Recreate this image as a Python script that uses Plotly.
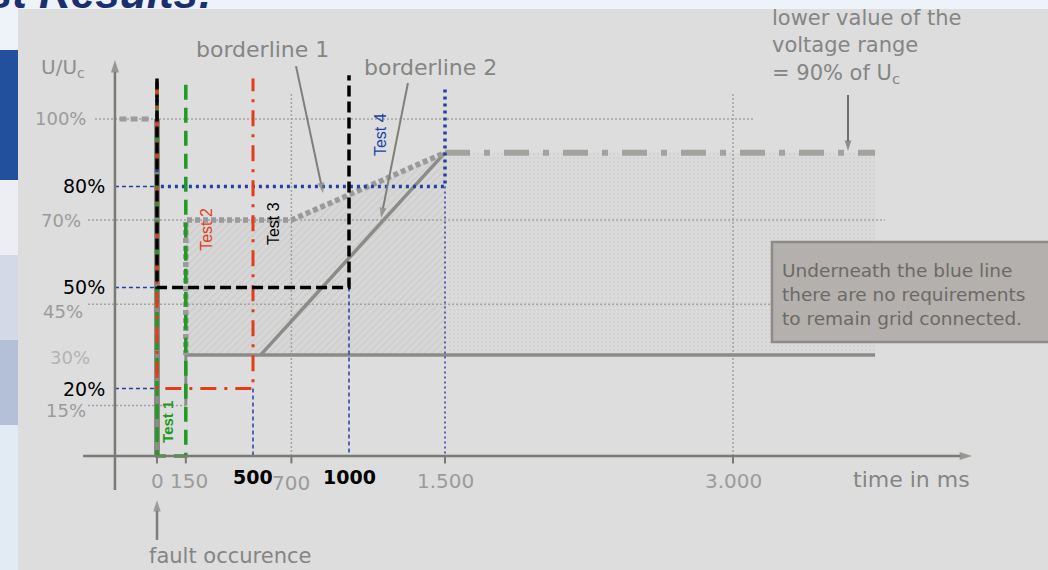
import plotly.graph_objects as go

# ---------------- data ----------------
# time axis (ms) and voltage axis (% of Uc)
x_tick_vals = [0, 150, 500, 700, 1000, 1500, 3000]
x_tick_text = ["0", "150", "<b>500</b>", "700", "<b>1000</b>", "1.500", "3.000"]
x_tick_dark = [False, False, True, False, True, False, False]
tick_mark_vals = [0, 150, 700, 1500, 3000]

y_tick_vals = [100, 80, 70, 50, 45, 30, 20, 15]
y_tick_text = ["100%", "80%", "70%", "50%", "45%", "30%", "20%", "15%"]
y_tick_dark = [False, True, False, True, False, False, True, False]

# grey requirement curves
pre_t, pre_u = [-195, -35], [100, 100]            # before fault, 100 %
fault_t, fault_u = [0, 0], [100, 0]               # fault occurrence
bl1_t, bl1_u = [150, 150, 700, 1500], [30, 70, 70, 90]   # borderline 1
bl2_t, bl2_u = [540, 1500], [30, 90]                     # borderline 2 ramp
floor_t, floor_u = [150, 3740], [30, 30]                 # 30 % floor
step_t, step_u = [150, 150], [15, 30]
lv_t, lv_u = [1500, 3740], [90, 90]                      # lower value 90 %
hatch_t, hatch_u = [150, 150, 700, 1500, 1500], [30, 70, 70, 90, 30]
stip_t, stip_u = [1500, 1500, 3740, 3740], [30, 90, 90, 30]

# test voltage profiles
test1_t, test1_u = [0, 0, 150, 150], [111, 0, 0, 111]
test2_t, test2_u = [0, 0, 500, 500], [111, 20, 20, 112]
test3_t, test3_u = [0, 0, 1000, 1000], [112, 50, 50, 113]
test4_t, test4_u = [0, 0, 1500, 1500], [110, 80, 80, 109]

# ---------------- figure ----------------
FONT = "DejaVu Sans"
ARIAL = "Liberation Sans, Arial"
GRID = "#a3a3a3"
BORDER = "#8b8b87"
AXIS = "#7a7a74"
BLUE = "#2142a3"
GREEN = "#1f9a22"
RED = "#e23d1a"
TXT = "#858585"

X0, X1 = -817.7, 4640.6
Y0, Y1 = -33.83, 135.31

fig = go.Figure()


def line(t, u, color, width, dash="solid"):
    fig.add_trace(go.Scatter(x=t, y=u, mode="lines",
                             line=dict(color=color, width=width, dash=dash),
                             hoverinfo="skip", showlegend=False))


def arrow(t, u, color, width, head):
    # t, u: [tail, head]
    fig.add_trace(go.Scatter(x=t, y=u, mode="lines+markers",
                             line=dict(color=color, width=width),
                             marker=dict(symbol="arrow", size=[0, head], color=color,
                                         angleref="previous", line=dict(width=0)),
                             hoverinfo="skip", showlegend=False))


# shaded areas
fig.add_trace(go.Scatter(x=hatch_t, y=hatch_u, fill="toself", mode="none",
                         fillcolor="#d6d6d6",
                         fillpattern=dict(shape="/", fgcolor="#c3c3c3", bgcolor="#d7d7d7",
                                          size=5, solidity=0.3),
                         hoverinfo="skip", showlegend=False))
fig.add_trace(go.Scatter(x=stip_t, y=stip_u, fill="toself", mode="none",
                         fillcolor="#dadada",
                         fillpattern=dict(shape=".", fgcolor="#c8c8c8", bgcolor="#dbdbdb",
                                          size=4, solidity=0.3),
                         hoverinfo="skip", showlegend=False))

# grid lines
grid_dash = "2px,2px"
line([-323, 3115], [100, 100], GRID, 1.5, grid_dash)
line([-359, 3792], [70, 70], GRID, 1.5, grid_dash)
line([-359, 3203], [45, 45], GRID, 1.5, grid_dash)
line([-359, 150], [15, 15], GRID, 1.5, grid_dash)
line([700, 700], [0, 108], GRID, 1.5, grid_dash)
line([3000, 3000], [0, 108], GRID, 1.5, grid_dash)

# grey requirement curves
line(pre_t, pre_u, "#9c9c9c", 5, "7px,4px")
line(fault_t, fault_u, BORDER, 6)
line(step_t, step_u, BORDER, 3)
line(floor_t, floor_u, BORDER, 3.5)
line(bl2_t, bl2_u, BORDER, 3.5)
line(bl1_t, bl1_u, "#9a9a9a", 5.5, "5px,3px")
line(lv_t, lv_u, "#a2a29f", 6, "25px,14px,6px,14px")

# thin blue guide lines
guide = "4px,3px"
for lvl in (80, 50, 20):
    line([-219, 0], [lvl, lvl], BLUE, 1.5, guide)
line([500, 500], [20, 0], BLUE, 1.5, guide)
line([1000, 1000], [50, 0], BLUE, 1.5, guide)
line([1500, 1500], [80, 0], BLUE, 1.5, "2px,3px")

# tests
line(test4_t, test4_u, BLUE, 3.5, "3px,4px")
line(test1_t, test1_u, GREEN, 3.5, "15px,8px")
line(test2_t, test2_u, RED, 3, "16px,8px,3px,8px")
line(test3_t, test3_u, "#000000", 3.5, "11px,5px")

# axes with arrow heads (drawn over the test lines)
arrow([-385, 4245], [0, 0], AXIS, 2.5, 13)          # time axis
arrow([-219, -219], [-10.1, 117.5], AXIS, 2.5, 13)  # voltage axis

# tick marks
for tv in tick_mark_vals:
    line([tv, tv], [0, -2.2], AXIS, 2)

# pointer arrows
arrow([724, 865], [115.7, 78.0], "#7f7f7a", 2, 11)     # borderline 1
arrow([1307, 1167], [110.7, 70.6], "#7f7f7a", 2, 11)   # borderline 2
arrow([3599, 3599], [107.1, 90.5], "#6f6f6a", 2, 11)   # 90 % pointer
arrow([0, 0], [-24.9, -13.1], "#7f7f7a", 2.5, 12)      # fault occurrence

# ---------------- annotations ----------------
ann = []


def txt(x, y, text, size, color, family=FONT, xanchor="center", yanchor="middle",
        angle=0, align="center", yshift=0):
    ann.append(dict(x=x, y=y, xref="x", yref="y", text=text, showarrow=False,
                    font=dict(family=family, size=size, color=color),
                    xanchor=xanchor, yanchor=yanchor, textangle=angle, align=align,
                    yshift=yshift))


# y labels
y_label_x = {"100%": -359, "80%": -260, "70%": -385, "50%": -260, "45%": -375,
             "30%": -339, "20%": -260, "15%": -359}
y_label_shift = {"45%": -7, "15%": -5, "30%": -3}
for v, t, dark in zip(y_tick_vals, y_tick_text, y_tick_dark):
    col = "#000000" if dark else ("#b3b3b3" if t == "30%" else "#9b9b9b")
    txt(y_label_x[t], v, t, 19 if dark else 18, col, xanchor="right",
        yshift=y_label_shift.get(t, 0))

# x labels
x_label_y = {"0": -7.4, "150": -7.4, "<b>500</b>": -6.2, "700": -8.0,
             "<b>1000</b>": -6.2, "1.500": -7.4, "3.000": -7.4}
x_label_shift = {"150": 17}
for v, t, dark in zip(x_tick_vals, x_tick_text, x_tick_dark):
    col = "#000000" if dark else "#9b9b9b"
    txt(v + x_label_shift.get(t, 0), x_label_y[t], t, 19 if dark else 20, col)

txt(3932, -7.1, "time in ms", 22, TXT)
txt(-490, 115.1, "U/U<sub>c</sub>", 20, "#8f8f8f")
txt(547, 120.5, "borderline 1", 22, TXT)
txt(1422, 115.4, "borderline 2", 22, TXT)
txt(3193, 121.4, "lower value of the<br>voltage range<br>= 90% of U<sub>c</sub>", 21, TXT,
    xanchor="left", align="left")
txt(380, -29.7, "fault occurence", 21, TXT)

# test labels
txt(57, 10.1, "<b>Test 1</b>", 15, GREEN, family=ARIAL, angle=-90)
txt(260, 67.4, "Test 2", 16, RED, family=ARIAL, angle=-90)
txt(604, 69.1, "Test 3", 16, "#000000", family=ARIAL, angle=-90)
txt(1161, 95.5, "Test 4", 16, BLUE, family=ARIAL, angle=-90)

# info box text
txt(3245, 47.8, "Underneath the blue line<br>there are no requirements<br>to remain grid connected.",
    18.5, "#6b6a67", xanchor="left", align="left")

# title remnant of the slide
ann.append(dict(x=215 / 1048, y=1 - 19 / 570, xref="paper", yref="paper",
                text="<b><i>Test Results:</i></b>", showarrow=False,
                font=dict(family=ARIAL, size=44, color="#1b2f70"),
                xanchor="right", yanchor="bottom"))

# ---------------- shapes ----------------
shapes = [
    dict(type="rect", xref="paper", yref="paper", x0=18 / 1048, x1=1, y0=0, y1=1 - 9 / 570,
         fillcolor="#dddddd", line=dict(width=0), layer="below"),
    dict(type="rect", xref="paper", yref="paper", x0=0, x1=18 / 1048, y0=1 - 180 / 570,
         y1=1 - 50 / 570, fillcolor="#22509c", line=dict(width=0), layer="below"),
    dict(type="rect", xref="paper", yref="paper", x0=0, x1=18 / 1048, y0=1 - 255 / 570,
         y1=1 - 180 / 570, fillcolor="#eceef4", line=dict(width=0), layer="below"),
    dict(type="rect", xref="paper", yref="paper", x0=0, x1=18 / 1048, y0=1 - 340 / 570,
         y1=1 - 255 / 570, fillcolor="#d3d9e6", line=dict(width=0), layer="below"),
    dict(type="rect", xref="paper", yref="paper", x0=0, x1=18 / 1048, y0=1 - 425 / 570,
         y1=1 - 340 / 570, fillcolor="#b4c0d8", line=dict(width=0), layer="below"),
    dict(type="rect", xref="paper", yref="paper", x0=0, x1=18 / 1048, y0=0,
         y1=1 - 425 / 570, fillcolor="#e2eaf4", line=dict(width=0), layer="below"),
    # info box
    dict(type="rect", xref="x", yref="y", x0=3203, x1=4800, y0=33.8, y1=63.5,
         fillcolor="#b3b0ad", line=dict(color="#8d8b87", width=2.5), layer="above"),
]

fig.update_layout(
    width=1048, height=570,
    margin=dict(l=0, r=0, t=0, b=0),
    paper_bgcolor="#eef3f9",
    plot_bgcolor="rgba(0,0,0,0)",
    showlegend=False,
    xaxis=dict(range=[X0, X1], visible=False, fixedrange=True),
    yaxis=dict(range=[Y0, Y1], visible=False, fixedrange=True),
    annotations=ann,
    shapes=shapes,
)

fig.write_html("out.html",
               config={"displayModeBar": False},
               post_script="document.body.style.margin='0';document.body.style.padding='0';")
